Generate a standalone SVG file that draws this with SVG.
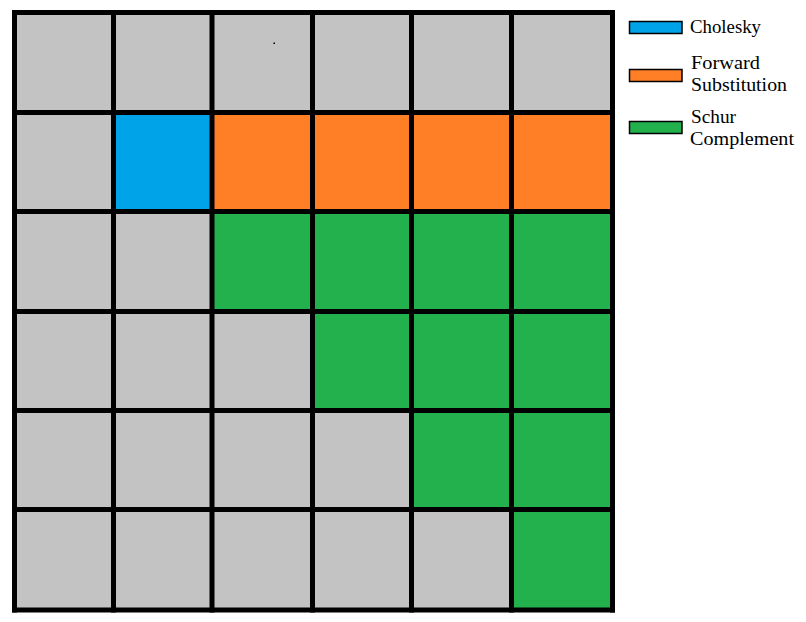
<svg xmlns="http://www.w3.org/2000/svg" width="806" height="622" viewBox="0 0 806 622">
<style>
.g{fill:#c3c3c3}.b{fill:#00a2e8}.o{fill:#ff7f27}.gr{fill:#22b14c}
.ln{stroke:#000;stroke-width:5;fill:none}
.lg{stroke:#000;stroke-width:1.5}
.t{font-family:"Liberation Serif",serif;font-size:19px;fill:#000}
</style>
<rect width="806" height="622" fill="#fff"/>
<g id="cells">
<rect class="g" x="14" y="12" width="600" height="598"/>
<rect class="b" x="113" y="112" width="100" height="100"/>
<rect class="o" x="212" y="112" width="401" height="100"/>
<rect class="gr" x="212" y="211" width="401" height="101"/>
<rect class="gr" x="312" y="311" width="301" height="100"/>
<rect class="gr" x="411" y="410" width="202" height="100"/>
<rect class="gr" x="511" y="509" width="102" height="101"/>
<rect x="273.5" y="42.5" width="1.5" height="1.5" fill="#000"/>
</g>
<g id="connectors">
<path class="ln" d="M14.5 10V612.5M113.5 10V612.5M212 10V612.5M312.5 10V612.5M411.5 10V612.5M511.5 10V612.5M612.5 10V612.5"/>
<path class="ln" d="M12 12.5H615M12 112.5H615M12 211.5H615M12 311.5H615M12 410.5H615M12 509.5H615M12 610H615"/>
</g>
<g id="legend-cholesky">
<rect class="b lg" x="629.5" y="21.5" width="52.5" height="12"/>
<text class="t" x="690" y="33" textLength="71" lengthAdjust="spacingAndGlyphs">Cholesky</text>
</g>
<g id="legend-forward">
<rect class="o lg" x="629.5" y="69.5" width="52.5" height="12"/>
<text class="t" x="691" y="69" textLength="69" lengthAdjust="spacingAndGlyphs">Forward</text>
<text class="t" x="691" y="91" textLength="96" lengthAdjust="spacingAndGlyphs">Substitution</text>
</g>
<g id="legend-schur">
<rect class="gr lg" x="629.5" y="121.5" width="52.5" height="12"/>
<text class="t" x="691" y="123" textLength="45" lengthAdjust="spacingAndGlyphs">Schur</text>
<text class="t" x="690" y="145" textLength="104" lengthAdjust="spacingAndGlyphs">Complement</text>
</g>
</svg>
